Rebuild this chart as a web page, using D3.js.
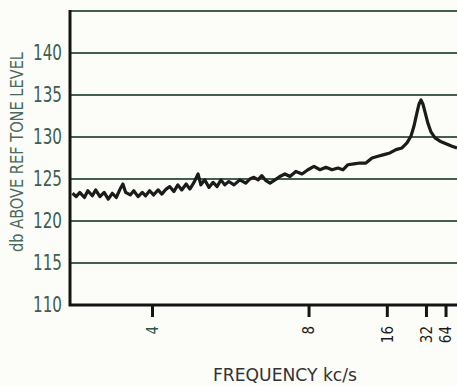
<!DOCTYPE html>
<html>
<head>
<meta charset="utf-8">
<script src="https://cdn.jsdelivr.net/npm/d3@7"></script>
<style>
  body { margin: 0; background: #fcfcf9; }
  svg { display: block; }
  .lbl { font-family: "DejaVu Sans Condensed", "DejaVu Sans", sans-serif; }
</style>
</head>
<body>
<svg id="chart"></svg>
<script>
'use strict'

// frequency (kc/s)
const freqs = [3.19, 3.22, 3.25, 3.29, 3.32, 3.36, 3.39, 3.43, 3.47, 3.51, 3.55, 3.59, 3.63, 3.66, 3.69,
  3.74, 3.78, 3.83, 3.88, 3.92, 3.97, 4.02, 4.08, 4.13, 4.19, 4.24, 4.30, 4.36, 4.42, 4.49, 4.55, 4.62,
  4.69, 4.74, 4.81, 4.89, 4.97, 5.05, 5.13, 5.21, 5.30, 5.42, 5.56, 5.71, 5.82, 5.93, 6.05, 6.16, 6.29,
  6.42, 6.59, 6.76, 6.95, 7.15, 7.40, 7.68, 7.97, 8.29, 8.63, 9.00, 9.41, 9.85, 10.25, 10.69, 11.27,
  11.91, 12.63, 13.45, 14.37, 15.44, 16.67, 18.12, 19.84, 21.55, 23.14, 24.50, 26.03, 27.16, 28.39,
  29.74, 31.22, 33.75, 36.72, 41.60, 49.88, 65.55, 95.57, 154.6]
// level in db above reference tone
const levels = [123.3, 122.9, 123.4, 122.8, 123.6, 123.0, 123.7, 122.9, 123.4, 122.6, 123.3, 122.8, 123.8, 124.4, 123.4,
  123.1, 123.6, 122.9, 123.4, 123.0, 123.6, 123.1, 123.7, 123.2, 123.8, 124.1, 123.5, 124.3, 123.7, 124.4, 123.8, 124.6,
  125.6, 124.3, 124.9, 124.0, 124.6, 124.1, 124.9, 124.3, 124.7, 124.3, 124.9, 124.5, 125.0, 125.2, 124.9, 125.4, 124.8,
  124.5, 124.9, 125.3, 125.6, 125.3, 125.9, 125.6, 126.1, 126.5, 126.1, 126.4, 126.1, 126.3, 126.1, 126.7, 126.8,
  126.9, 126.9, 127.5, 127.7, 127.9, 128.1, 128.5, 128.7, 129.3, 130.1, 131.3, 132.9, 133.9, 134.4,
  133.9, 133.0, 131.6, 130.6, 129.9, 129.5, 129.2, 128.9, 128.7]

const yTicks = [110, 115, 120, 125, 130, 135, 140]
const xTicks = [4, 8, 16, 32, 64]

const width = 457, height = 386
const margins = {top: 11, right: 0, bottom: 81, left: 70}

const svg = d3.select('#chart')
  .attr('width', width)
  .attr('height', height)

// octaves shrink by half toward the right: position goes with 1/f
const x = d3.scalePow().exponent(-1).domain([3.17, 154.6]).range([margins.left, width - margins.right])
const y = d3.scaleLinear().domain([110, 145]).range([height - margins.bottom, margins.top])

// horizontal grid
svg.append('g')
  .selectAll('line')
  .data(yTicks.slice(1).concat([145]))
  .enter().append('line')
    .attr('x1', margins.left)
    .attr('x2', width)
    .attr('y1', d => y(d))
    .attr('y2', d => y(d))
    .attr('stroke', '#43604f')
    .attr('stroke-width', 2)

// y axis
const yAxis = svg.append('g')
  .attr('transform', 'translate(' + margins.left + ',0)')
  .call(d3.axisLeft(y).tickValues(yTicks).tickSize(0).tickPadding(8))
yAxis.select('.domain').remove()
yAxis.selectAll('text')
  .attr('class', 'lbl')
  .attr('font-size', 21)
  .attr('fill', '#3e5e50')
  .attr('textLength', 29)
  .attr('lengthAdjust', 'spacingAndGlyphs')

// x axis
const xAxis = svg.append('g')
  .attr('transform', 'translate(0,' + y(110) + ')')
  .call(d3.axisBottom(x).tickValues(xTicks).tickSize(12).tickFormat(d3.format('d')))
xAxis.select('.domain').remove()
xAxis.selectAll('.tick line').attr('stroke', '#151515').attr('stroke-width', 3)
xAxis.selectAll('text')
  .attr('class', 'lbl')
  .attr('font-size', 15)
  .attr('fill', (d, i) => i === 0 ? '#2d5646' : '#1c1c1c')
  .attr('text-anchor', 'end')
  .attr('dy', '0.35em')
  .attr('y', 0)
  .attr('transform', 'translate(0,21) rotate(-90)')

// frame
svg.append('path')
  .attr('d', 'M' + margins.left + ',' + (margins.top - 1) + 'V' + y(110) + 'H' + width)
  .attr('fill', 'none')
  .attr('stroke', '#141414')
  .attr('stroke-width', 3)

// trace
const points = freqs.map((f, i) => ({f: f, db: levels[i]}))
const line = d3.line().x(d => x(d.f)).y(d => y(d.db))
svg.append('path')
  .datum(points)
  .attr('d', line)
  .attr('fill', 'none')
  .attr('stroke', '#1b1b1b')
  .attr('stroke-width', 3.2)
  .attr('stroke-linejoin', 'round')

// axis titles
svg.append('text')
  .attr('class', 'lbl')
  .attr('transform', 'translate(23,152) rotate(-90)')
  .attr('text-anchor', 'middle')
  .attr('font-size', 18)
  .attr('fill', '#4a6a5c')
  .attr('textLength', 200)
  .attr('lengthAdjust', 'spacingAndGlyphs')
  .text('db ABOVE REF TONE LEVEL')

svg.append('text')
  .attr('class', 'lbl')
  .attr('x', 285)
  .attr('y', 381)
  .attr('text-anchor', 'middle')
  .attr('font-size', 17.5)
  .attr('fill', '#333')
  .attr('textLength', 144)
  .attr('lengthAdjust', 'spacingAndGlyphs')
  .text('FREQUENCY kc/s')
</script>
</body>
</html>
